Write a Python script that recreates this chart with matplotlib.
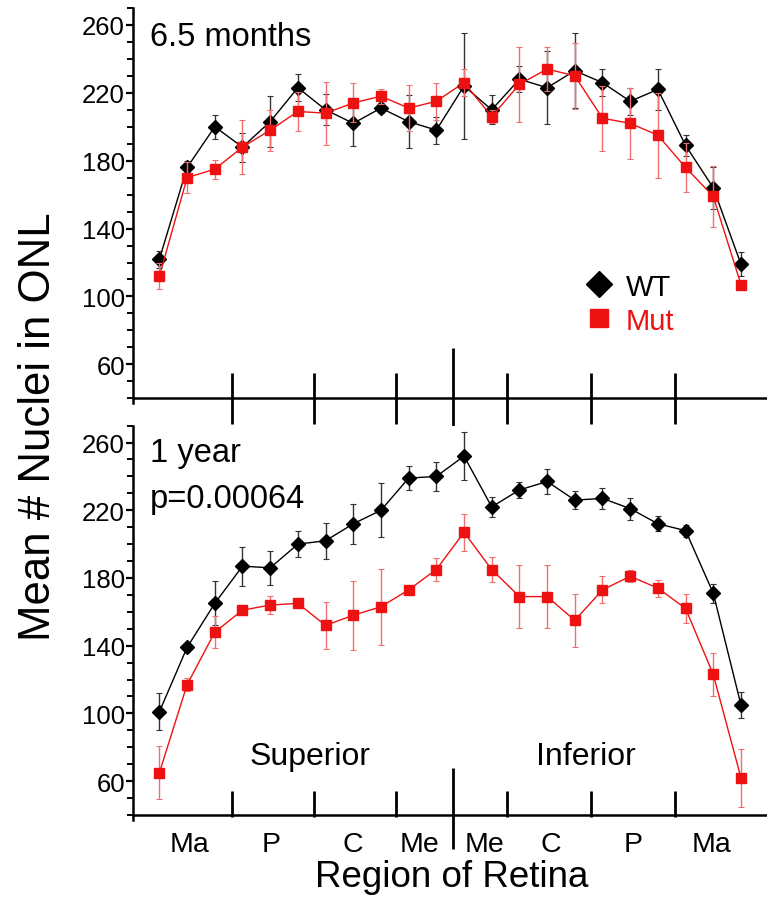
import numpy as np
import matplotlib
matplotlib.use("Agg")
import matplotlib.pyplot as plt
from matplotlib.lines import Line2D
from matplotlib.ticker import MultipleLocator
from matplotlib.transforms import blended_transform_factory

plt.rcParams['font.family'] = ['Liberation Sans', 'DejaVu Sans']

# 22 sampling positions across the retina (superior Ma -> Me, inferior Me -> Ma)
positions = np.arange(22)

# 6.5 months
wt_6m = [122, 176, 200, 188, 203, 223, 210, 202, 211, 203, 198,
         224, 210, 228, 223, 233, 226, 215, 222, 189, 164, 119]
wt_6m_err = [5, 4, 7, 8.5, 15, 8, 9, 13.5, 3, 15.5, 8,
             31, 8.5, 7.5, 21.5, 22, 8, 8, 12, 6, 12.5, 7]
mut_6m = [112, 170, 175, 188, 198, 209, 208, 214, 218, 211, 215,
          226, 206, 225, 234, 230, 205, 202, 195, 176, 159, 107]
mut_6m_err = [7.5, 9, 5.5, 16, 12, 11.5, 18.5, 11.5, 4.5, 13.5, 11,
              8, 4, 22, 13, 19.5, 19, 21, 25, 14.5, 18, 2]

# 1 year
wt_1y = [101, 139, 165, 187, 186, 200, 202, 212, 220, 239, 240,
         252, 222, 232, 237, 226, 227, 221, 212, 208, 171, 105]
wt_1y_err = [11, 2.5, 13, 11.5, 10, 7.5, 10.5, 12, 16, 7, 8.5,
             14, 6, 4.5, 7.5, 5.5, 6, 6.5, 4.5, 3.5, 5.5, 7.5]
mut_1y = [65, 117, 148, 161, 164, 165, 152, 158, 163, 173, 185,
          207, 185, 169, 169, 155, 173, 181, 174, 162, 123, 62]
mut_1y_err = [15.5, 4, 9.5, 3, 5.5, 2, 14, 20.5, 22.5, 2, 7,
              11, 7.5, 18.5, 18.5, 15.5, 8, 3.5, 5, 8.5, 12.5, 17]

region_labels = ['Ma', 'P', 'C', 'Me', 'Me', 'C', 'P', 'Ma']
region_label_x = [1.1, 4.05, 7.0, 9.4, 11.75, 14.15, 17.1, 19.95]
section_ticks = [2.62, 5.57, 8.55, 12.55, 15.6, 18.6]
divider_x = 10.6

RED = '#ee1111'
ERR_RED = '#f07070'


def draw_panel(ax, wt, wt_err, mut, mut_err):
    ax.errorbar(positions, wt, yerr=wt_err, color='black', lw=1.0,
                marker='D', ms=6.8, mec='black', mfc='black',
                ecolor='#333333', elinewidth=1.0, capsize=2.2, capthick=0.8,
                zorder=3)
    ax.errorbar(positions, mut, yerr=mut_err, color=RED, lw=1.0,
                marker='s', ms=6.6, mec=RED, mfc=RED,
                ecolor=ERR_RED, elinewidth=1.0, capsize=2.2, capthick=0.8,
                zorder=4)

    ax.set_xlim(-0.97, 21.94)
    ax.set_ylim(37, 270)
    for side in ['top', 'right']:
        ax.spines[side].set_visible(False)
    ax.spines['left'].set_linewidth(1.8)
    ax.spines['bottom'].set_linewidth(1.8)
    ax.spines['bottom'].set_position(('data', 40))

    ax.yaxis.set_minor_locator(MultipleLocator(10))
    ax.set_yticks([60, 100, 140, 180, 220, 260])
    ax.tick_params(axis='y', which='major', direction='out', length=5,
                   width=1.6, labelsize=18.5, pad=0.5)
    ax.tick_params(axis='y', which='minor', direction='out', length=4,
                   width=1.4)
    ax.set_xticks([])


fig = plt.figure(figsize=(7.67, 9.12), dpi=100)
ax_top = fig.add_axes([0.1728, 0.5566, 0.8272, 0.4336])
ax_bot = fig.add_axes([0.1728, 0.0997, 0.8272, 0.4325])

draw_panel(ax_top, wt_6m, wt_6m_err, mut_6m, mut_6m_err)
draw_panel(ax_bot, wt_1y, wt_1y_err, mut_1y, mut_1y_err)

# section tick marks and the superior / inferior divider
tr_top = blended_transform_factory(ax_top.transData, ax_top.transAxes)
tr_bot = blended_transform_factory(ax_bot.transData, ax_bot.transAxes)
base = (40 - 37) / (270 - 37)
for x in section_ticks:
    ax_top.plot([x, x], [base - 0.064, base + 0.064], color='black',
                lw=2.0, transform=tr_top, clip_on=False, solid_capstyle='butt')
    ax_bot.plot([x, x], [base - 0.005, base + 0.062], color='black',
                lw=2.0, transform=tr_bot, clip_on=False, solid_capstyle='butt')
ax_top.plot([divider_x, divider_x], [base - 0.112, base + 0.126],
            color='black', lw=2.0, transform=tr_top, clip_on=False,
            solid_capstyle='butt')
ax_bot.plot([divider_x, divider_x], [base - 0.085, base + 0.118],
            color='black', lw=2.0, transform=tr_bot, clip_on=False,
            solid_capstyle='butt')

for x, lab in zip(region_label_x, region_labels):
    ax_bot.text(x, -0.06, lab, transform=tr_bot, ha='center', va='center',
                fontsize=20.5)

ax_bot.text(5.45, 0.1625, 'Superior', transform=tr_bot, ha='center',
            va='center', fontsize=23)
ax_bot.text(15.4, 0.1625, 'Inferior', transform=tr_bot, ha='center',
            va='center', fontsize=23)

ax_top.text(0.027, 0.927, '6.5 months', transform=ax_top.transAxes,
            ha='left', va='center', fontsize=23.5)
ax_bot.text(0.027, 0.933, '1 year', transform=ax_bot.transAxes,
            ha='left', va='center', fontsize=23.5)
ax_bot.text(0.027, 0.814, 'p=0.00064', transform=ax_bot.transAxes,
            ha='left', va='center', fontsize=23.5)

handles = [Line2D([], [], ls='none', marker='D', ms=13, color='black'),
           Line2D([], [], ls='none', marker='s', ms=13, color=RED)]
ax_top.legend(handles, ['WT', 'Mut'], loc='upper left',
              bbox_to_anchor=(0.69, 0.36), frameon=False, fontsize=21,
              labelcolor=['black', RED], handletextpad=0.3,
              labelspacing=0.2, borderaxespad=0, handlelength=1.2)

fig.text(39 / 767, 1 - 427 / 912, 'Mean # Nuclei in ONL', rotation=90,
         ha='center', va='center', fontsize=31.5)
fig.text(452 / 767, 1 - 878 / 912, 'Region of Retina', ha='center',
         va='center', fontsize=26.5)

fig.savefig('out.png', dpi=100)
